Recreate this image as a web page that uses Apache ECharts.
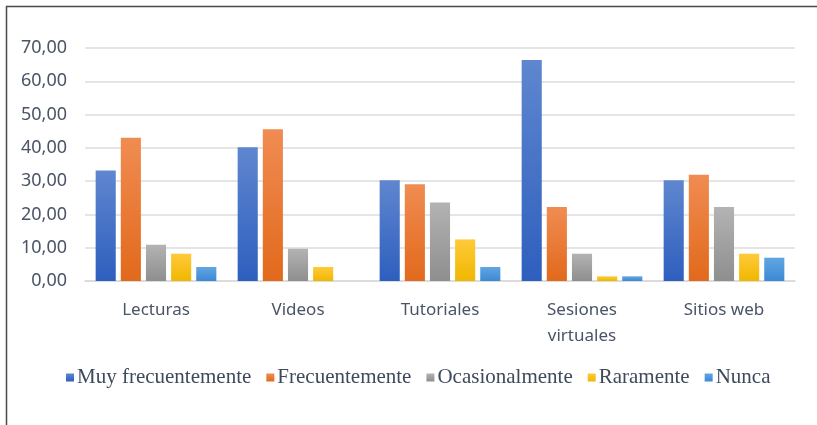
<!DOCTYPE html>
<html>
<head>
<meta charset="utf-8">
<script src="https://cdn.jsdelivr.net/npm/echarts@6/dist/echarts.min.js"></script>
<style>
  html, body { margin: 0; padding: 0; background: #fff; }
  #chart { width: 817px; height: 425px; }
</style>
</head>
<body>
<div id="chart"></div>
<script>
const categories = ["Lecturas", "Videos", "Tutoriales", "Sesiones\nvirtuales", "Sitios web"];
const seriesNames = ["Muy frecuentemente", "Frecuentemente", "Ocasionalmente", "Raramente", "Nunca"];
const muyFrecuentemente = [33.2, 40.2, 30.3, 66.4, 30.3];
const frecuentemente = [43.0, 45.6, 29.1, 22.2, 31.9];
const ocasionalmente = [10.9, 9.7, 23.6, 8.2, 22.2];
const raramente = [8.2, 4.2, 12.5, 1.4, 8.2];
const nunca = [4.2, 0, 4.2, 1.4, 7.0];

// top colour, bottom colour, legend colour
const colors = [
  ["#5f86cf", "#2e5fbe", "#3a66c4"],
  ["#f08c52", "#e2691c", "#ec7a34"],
  ["#b3b3b3", "#8e8e8e", "#a0a0a0"],
  ["#ffca3a", "#f0b700", "#fbc110"],
  ["#62a6e2", "#3c89d5", "#4a95db"]
];

const chart = echarts.init(document.getElementById("chart"));
const data = [muyFrecuentemente, frecuentemente, ocasionalmente, raramente, nunca];

chart.setOption({
  animation: false,
  graphic: [{
    type: "rect",
    left: 4, top: 4,
    shape: { width: 900, height: 600 },
    style: { fill: null, stroke: "#4a4a4a", lineWidth: 1.5 },
    silent: true
  }],
  color: colors.map((c) => c[2]),
  grid: { left: 85, right: 22, top: 48, bottom: 144 },
  legend: {
    bottom: 32,
    left: 61,
    itemWidth: 8,
    itemHeight: 8,
    itemGap: 15,
    icon: "rect",
    textStyle: {
      fontFamily: "Liberation Serif",
      fontSize: 21,
      color: "#3e4a5c",
      padding: [0, 0, 0, -2]
    },
    data: seriesNames
  },
  xAxis: {
    type: "category",
    data: categories,
    axisLine: { lineStyle: { color: "#d9d9d9", width: 1.5 } },
    axisTick: { show: false },
    axisLabel: {
      margin: 16,
      fontFamily: "Noto Sans",
      fontSize: 17,
      lineHeight: 26,
      color: "#4a5466"
    }
  },
  yAxis: {
    type: "value",
    min: 0,
    max: 70,
    interval: 10,
    axisLine: { show: false },
    axisTick: { show: false },
    splitLine: { lineStyle: { color: "#dcdcdc", width: 1.5 } },
    axisLabel: {
      margin: 18,
      fontFamily: "Noto Sans",
      fontSize: 18,
      color: "#4a5466",
      formatter: (v) => v.toFixed(2).replace(".", ",")
    }
  },
  series: seriesNames.map((name, i) => ({
    name,
    type: "bar",
    data: data[i],
    barGap: "25%",
    barCategoryGap: "15%",
    itemStyle: {
      color: new echarts.graphic.LinearGradient(0, 0, 0, 1, [
        { offset: 0, color: colors[i][0] },
        { offset: 1, color: colors[i][1] }
      ])
    }
  }))
});
</script>
</body>
</html>
